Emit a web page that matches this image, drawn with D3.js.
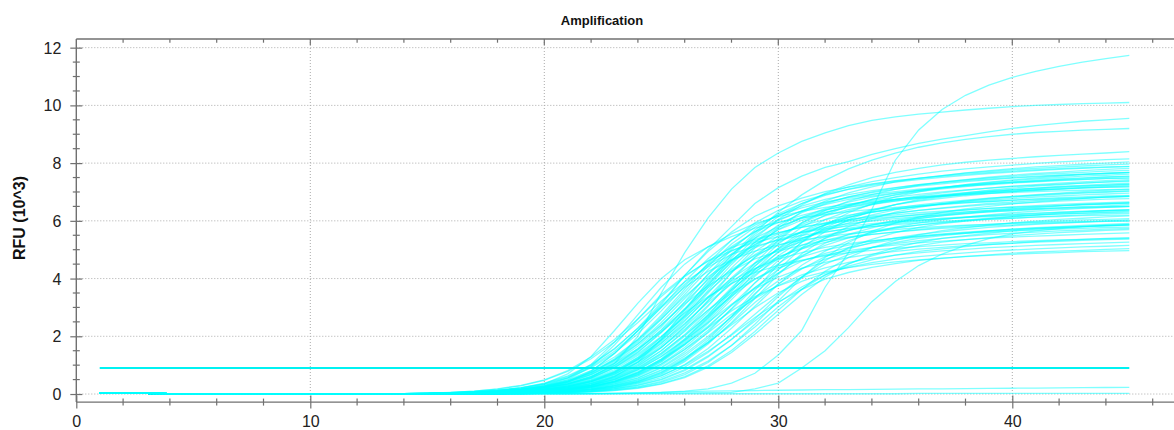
<!DOCTYPE html>
<html><head><meta charset="utf-8">
<script src="https://cdn.jsdelivr.net/npm/d3@7"></script>
<style>html,body{margin:0;padding:0;background:#fff;overflow:hidden}</style>
</head><body><svg id="chart" width="1174" height="430"></svg>
<script>
// ---------- data (RFU in 10^3 units, one value per cycle 1..45) ----------
const cycles = [1,2,3,4,5,6,7,8,9,10,11,12,13,14,15,16,17,18,19,20,21,22,23,24,25,26,27,28,29,30,31,32,33,34,35,36,37,38,39,40,41,42,43,44,45];
const xMajorTicks = [0,10,20,30,40];
const yMajorTicks = [0,2,4,6,8,10,12];
const thresholdRFU = 0.9;
const titleText = "Amplification";
const yLabelText = "RFU (10^3)";

const wE0a = [.05,.03,.02,.01,.01, .01,.01,.01,.01,.01, .01,.01,.01,.01, .03,.05,.08,.13,.21, .35,.7,1.3,2.2,3.15, 4.0,4.65,5.1,5.45,5.75, 5.95,6.1,6.22,6.32,6.4, 6.47,6.53,6.58,6.63,6.67, 6.71,6.74,6.77,6.8,6.82, 6.85];
const wE0b = [.05,.03,.02,.01,.01, .01,.01,.01,.01,.01, .01,.01,.01,.01, .02,.04,.06,.1,.16, .27,.5,.95,1.7,2.6, 3.45,4.1,4.6,4.97,5.25, 5.45,5.6,5.72,5.82,5.9, 5.97,6.02,6.07,6.11,6.15, 6.18,6.21,6.24,6.26,6.28, 6.3];
const wE0c = [.05,.03,.02,.01,.01, .01,.01,.01,.01,.01, .01,.01,.01,.01, .02,.04,.06,.1,.17, .29,.55,1.02,1.8,2.75, 3.7,4.5,5.1,5.55,5.9, 6.15,6.33,6.47,6.58,6.67, 6.75,6.81,6.86,6.91,6.95, 6.98,7.01,7.04,7.06,7.08, 7.1];
const wE0d = [.05,.03,.02,.01,.01, .01,.01,.01,.01,.01, .01,.01,.01,.01, .02,.03,.05,.08,.13, .22,.4,.78,1.4,2.2, 3.0,3.7,4.25,4.65,4.95, 5.17,5.33,5.45,5.55,5.63, 5.7,5.76,5.81,5.85,5.88, 5.91,5.94,5.96,5.98,5.99, 6.0];
const wA2 = [.05,.03,.02,.01,.01, .01,.01,.01,.01,.01, .01,.01,.01,.01, .03,.05,.08,.13,.22, .38,.63,1.02,1.58,2.28, 3.04,3.8,4.46,4.95,5.31, 5.58,5.78,5.93,6.04,6.13, 6.21,6.28,6.34,6.38,6.43, 6.47,6.5,6.53,6.56,6.58, 6.6];
const wB2 = [.05,.03,.02,.01,.01, .01,.01,.01,.01,.01, .01,.01,.01,.01, .03,.06,.1,.17,.28, .47,.78,1.22,1.8,2.48, 3.22,3.88,4.4,4.84,5.12, 5.33,5.5,5.62,5.72,5.8, 5.87,5.93,5.98,6.02,6.06, 6.09,6.13,6.15,6.18,6.19, 6.2];
const wN21 = [.05,.03,.02,.01,.01, .01,.01,.01,.01,.01, .01,.01,.01,.01, .04,.06,.1,.18,.3, .49,.81,1.28,1.89,2.6, 3.38,4.06,4.62,5.07,5.36, 5.59,5.77,5.9,5.99,6.08, 6.15,6.21,6.27,6.31,6.35, 6.39,6.42,6.45,6.47,6.49, 6.5];
const wC1 = [.05,.03,.02,.01,.01, .01,.01,.01,.01,.01, .01,.01,.01,.01,.01, .03,.05,.09,.15,.26, .44,.73,1.19,1.85,2.66, 3.54,4.43,5.2,5.78,6.2, 6.51,6.74,6.91,7.05,7.15, 7.25,7.32,7.39,7.45,7.5, 7.55,7.58,7.62,7.65,7.68];
const wC2 = [.05,.03,.02,.01,.01, .01,.01,.01,.01,.01, .01,.01,.01,.01,.01, .03,.05,.08,.14,.23, .39,.66,1.07,1.66,2.38, 3.17,3.97,4.66,5.18,5.55, 5.83,6.04,6.2,6.31,6.41, 6.49,6.56,6.62,6.67,6.72, 6.76,6.8,6.83,6.86,6.88];
const wC3 = [.05,.03,.02,.01,.01, .01,.01,.01,.01,.01, .01,.01,.01,.01,.01, .02,.04,.07,.12,.2, .33,.55,.9,1.39,2.0, 2.67,3.34,3.92,4.35,4.67, 4.9,5.08,5.21,5.31,5.39, 5.46,5.52,5.57,5.61,5.65, 5.68,5.71,5.74,5.77,5.78];
const wC4 = [.05,.03,.02,.01,.01, .01,.01,.01,.01,.01, .01,.01,.01,.01,.01, .03,.05,.09,.14,.24, .41,.68,1.12,1.73,2.48, 3.31,4.14,4.86,5.4,5.8, 6.08,6.3,6.47,6.59,6.69, 6.78,6.85,6.91,6.96,7.01, 7.06,7.09,7.13,7.16,7.18];
const wN1 = [.05,.03,.02,.01,.01, .01,.01,.01,.01,.01, .01,.01,.01,.01,.01, .03,.06,.09,.16,.27, .45,.75,1.22,1.9,2.73, 3.63,4.54,5.33,5.93,6.36, 6.68,6.91,7.09,7.23,7.34, 7.43,7.51,7.58,7.64,7.69, 7.74,7.78,7.82,7.85,7.88];
const wN2 = [.05,.03,.02,.01,.01, .01,.01,.01,.01,.01, .01,.01,.01,.01,.01, .03,.04,.08,.13,.22, .36,.61,.99,1.54,2.21, 2.94,3.68,4.32,4.8,5.15, 5.41,5.6,5.75,5.86,5.95, 6.02,6.09,6.14,6.19,6.23, 6.27,6.3,6.34,6.36,6.38];
const wN19 = [.05,.03,.02,.01,.01, .01,.01,.01,.01,.01, .01,.01,.01,.01,.01, .03,.05,.09,.15,.26, .43,.71,1.16,1.8,2.59, 3.45,4.31,5.06,5.63,6.04, 6.34,6.56,6.74,6.86,6.97, 7.06,7.13,7.2,7.25,7.31, 7.35,7.39,7.43,7.46,7.48];
const wD1 = [.05,.03,.02,.01,.01, .01,.01,.01,.01,.01, .01,.01,.01,.01,.01, .04,.08,.13,.21,.36, .6,.99,1.56,2.29,3.16, 4.11,4.94,5.61,6.16,6.52, 6.79,7.01,7.17,7.28,7.39, 7.47,7.55,7.62,7.67,7.72, 7.77,7.81,7.84,7.87,7.89];
const wD2 = [.05,.03,.02,.01,.01, .01,.01,.01,.01,.01, .01,.01,.01,.01,.01, .04,.06,.1,.18,.3, .49,.81,1.28,1.89,2.6, 3.38,4.06,4.62,5.07,5.36, 5.59,5.77,5.9,5.99,6.08, 6.15,6.21,6.27,6.31,6.35, 6.39,6.42,6.45,6.47,6.49];
const wD3 = [.05,.03,.02,.01,.01, .01,.01,.01,.01,.01, .01,.01,.01,.01,.01, .04,.07,.12,.2,.34, .57,.94,1.48,2.18,3.0, 3.9,4.69,5.33,5.85,6.19, 6.45,6.65,6.8,6.92,7.01, 7.1,7.17,7.23,7.28,7.33, 7.37,7.41,7.44,7.47,7.49];
const wD4 = [.05,.03,.02,.01,.01, .01,.01,.01,.01,.01, .01,.01,.01,.01,.01, .03,.05,.09,.15,.25, .41,.68,1.06,1.57,2.16, 2.81,3.38,3.83,4.21,4.46, 4.64,4.79,4.9,4.98,5.05, 5.11,5.16,5.21,5.24,5.28, 5.31,5.34,5.36,5.38,5.39];
const wN3 = [.05,.03,.02,.01,.01, .01,.01,.01,.01,.01, .01,.01,.01,.01,.01, .04,.07,.12,.19,.33, .55,.9,1.42,2.09,2.88, 3.74,4.5,5.11,5.62,5.94, 6.19,6.39,6.53,6.64,6.73, 6.81,6.88,6.94,6.99,7.03, 7.08,7.11,7.14,7.17,7.19];
const wN4 = [.05,.03,.02,.01,.01, .01,.01,.01,.01,.01, .01,.01,.01,.01,.01, .03,.06,.1,.16,.27, .46,.75,1.18,1.74,2.4, 3.12,3.75,4.26,4.68,4.95, 5.16,5.32,5.44,5.53,5.61, 5.68,5.74,5.78,5.83,5.86, 5.9,5.93,5.95,5.98,5.99];
const wE1 = [.05,.03,.02,.01,.01, .01,.01,.01,.01,.01, .01,.01,.01,.01,.01, .01, .03,.05,.09,.15,.26, .43,.72,1.18,1.82,2.62, 3.5,4.37,5.13,5.7,6.12, 6.42,6.65,6.82,6.95,7.06, 7.15,7.23,7.3,7.35,7.4, 7.45,7.49,7.52,7.55];
const wE2 = [.05,.03,.02,.01,.01, .01,.01,.01,.01,.01, .01,.01,.01,.01,.01, .01, .03,.04,.08,.13,.21, .36,.6,.98,1.51,2.17, 2.9,3.62,4.25,4.73,5.07, 5.32,5.51,5.66,5.76,5.85, 5.93,5.99,6.05,6.09,6.14, 6.17,6.21,6.24,6.26];
const wE3 = [.05,.03,.02,.01,.01, .01,.01,.01,.01,.01, .01,.01,.01,.01,.01, .01, .03,.05,.08,.14,.24, .4,.67,1.09,1.68,2.42, 3.22,4.03,4.73,5.25,5.64, 5.92,6.13,6.29,6.41,6.5, 6.59,6.66,6.72,6.77,6.82, 6.86,6.9,6.93,6.96];
const wE4 = [.05,.03,.02,.01,.01, .01,.01,.01,.01,.01, .01,.01,.01,.01,.01, .01, .03,.06,.1,.16,.28, .47,.78,1.27,1.97,2.83, 3.77,4.72,5.54,6.15,6.6, 6.93,7.18,7.36,7.5,7.62, 7.72,7.8,7.87,7.93,7.99, 8.04,8.08,8.12,8.15];
const wE5 = [.05,.03,.02,.01,.01, .01,.01,.01,.01,.01, .01,.01,.01,.01,.01, .01, .02,.04,.07,.12,.2, .34,.56,.91,1.42,2.04, 2.71,3.39,3.98,4.43,4.75, 4.99,5.16,5.3,5.4,5.48, 5.55,5.61,5.66,5.71,5.75, 5.78,5.81,5.84,5.86];
const wN5 = [.05,.03,.02,.01,.01, .01,.01,.01,.01,.01, .01,.01,.01,.01,.01, .01, .03,.05,.09,.15,.25, .42,.69,1.13,1.75,2.52, 3.36,4.2,4.93,5.48,5.88, 6.17,6.39,6.56,6.68,6.78, 6.87,6.94,7.01,7.06,7.11, 7.15,7.19,7.23,7.26];
const wN6 = [.05,.03,.02,.01,.01, .01,.01,.01,.01,.01, .01,.01,.01,.01,.01, .01, .03,.05,.08,.13,.23, .38,.64,1.04,1.61,2.31, 3.08,3.85,4.52,5.03,5.39, 5.66,5.86,6.02,6.13,6.22, 6.3,6.37,6.43,6.48,6.53, 6.57,6.6,6.63,6.66];
const wN17 = [.05,.03,.02,.01,.01, .01,.01,.01,.01,.01, .01,.01,.01,.01,.01, .01, .02,.04,.06,.11,.18, .31,.51,.84,1.3,1.86, 2.48,3.11,3.65,4.05,4.35, 4.56,4.73,4.85,4.94,5.02, 5.08,5.14,5.18,5.22,5.26, 5.29,5.32,5.35,5.37];
const wN23 = [.05,.03,.02,.01,.01, .01,.01,.01,.01,.01, .01,.01,.01,.01,.01, .01, .02,.04,.06,.1,.17, .29,.48,.78,1.2,1.73, 2.3,2.88,3.38,3.75,4.03, 4.23,4.38,4.49,4.58,4.65, 4.71,4.76,4.8,4.84,4.87, 4.9,4.93,4.95,4.97];
const wN24 = [.05,.03,.02,.01,.01, .01,.01,.01,.01,.01, .01,.01,.01,.01,.01, .01, .03,.05,.09,.16,.27, .44,.74,1.21,1.87,2.69, 3.59,4.49,5.27,5.85,6.28, 6.59,6.83,7.0,7.14,7.25, 7.34,7.42,7.49,7.54,7.6, 7.64,7.68,7.72,7.75];
const wF1 = [.05,.03,.02,.01,.01, .01,.01,.01,.01,.01, .01,.01,.01,.01,.01, .01, .04,.07,.12,.2,.33, .55,.91,1.44,2.12,2.92, 3.8,4.56,5.18,5.69,6.02, 6.28,6.48,6.62,6.73,6.83, 6.91,6.98,7.04,7.09,7.13, 7.18,7.21,7.24,7.27];
const wF2 = [.05,.03,.02,.01,.01, .01,.01,.01,.01,.01, .01,.01,.01,.01,.01, .01, .04,.06,.11,.18,.31, .52,.85,1.34,1.97,2.72, 3.54,4.25,4.83,5.3,5.61, 5.85,6.03,6.17,6.27,6.36, 6.43,6.5,6.56,6.6,6.64, 6.68,6.72,6.75,6.77];
const wF3 = [.05,.03,.02,.01,.01, .01,.01,.01,.01,.01, .01,.01,.01,.01,.01, .01, .03,.05,.09,.15,.25, .43,.7,1.1,1.62,2.24, 2.91,3.5,3.98,4.37,4.62, 4.82,4.97,5.08,5.16,5.24, 5.3,5.35,5.4,5.44,5.47, 5.5,5.53,5.56,5.58];
const wF4 = [.05,.03,.02,.01,.01, .01,.01,.01,.01,.01, .01,.01,.01,.01,.01, .01, .04,.07,.12,.21,.35, .59,.96,1.52,2.23,3.08, 4.0,4.81,5.47,6.01,6.35, 6.62,6.83,6.98,7.1,7.2, 7.28,7.36,7.42,7.48,7.52, 7.57,7.61,7.64,7.67];
const wF5 = [.05,.03,.02,.01,.01, .01,.01,.01,.01,.01, .01,.01,.01,.01,.01, .01, .03,.06,.1,.16,.28, .46,.76,1.2,1.77,2.44, 3.17,3.81,4.33,4.76,5.03, 5.25,5.41,5.53,5.62,5.7, 5.77,5.83,5.88,5.92,5.96, 6.0,6.03,6.05,6.08];
const wN7 = [.05,.03,.02,.01,.01, .01,.01,.01,.01,.01, .01,.01,.01,.01,.01, .01, .04,.08,.13,.22,.36, .61,1.0,1.58,2.32,3.2, 4.16,5.0,5.68,6.24,6.6, 6.88,7.1,7.26,7.38,7.48, 7.57,7.65,7.71,7.77,7.82, 7.86,7.9,7.94,7.97];
const wN8 = [.05,.03,.02,.01,.01, .01,.01,.01,.01,.01, .01,.01,.01,.01,.01, .01, .04,.06,.1,.17,.29, .49,.8,1.26,1.86,2.56, 3.33,4.0,4.54,4.99,5.28, 5.5,5.68,5.8,5.9,5.98, 6.05,6.12,6.17,6.21,6.25, 6.29,6.32,6.35,6.37];
const wN20 = [.05,.03,.02,.01,.01, .01,.01,.01,.01,.01, .01,.01,.01,.01,.01, .01, .04,.07,.12,.2,.34, .56,.93,1.46,2.15,2.96, 3.85,4.63,5.25,5.77,6.11, 6.36,6.56,6.71,6.82,6.92, 7.0,7.07,7.13,7.19,7.23, 7.27,7.31,7.34,7.37];
const wG1 = [.05,.03,.02,.01,.01, .01,.01,.01,.01,.01, .01,.01,.01,.01,.01, .01,.01, .03,.05,.09,.15,.26, .43,.71,1.16,1.8,2.59, 3.45,4.31,5.06,5.63,6.04, 6.34,6.56,6.74,6.86,6.97, 7.06,7.13,7.2,7.25,7.31, 7.35,7.39,7.43];
const wG2 = [.05,.03,.02,.01,.01, .01,.01,.01,.01,.01, .01,.01,.01,.01,.01, .01,.01, .03,.04,.08,.13,.22, .36,.61,.99,1.54,2.21, 2.94,3.68,4.32,4.8,5.15, 5.41,5.6,5.75,5.86,5.95, 6.02,6.09,6.14,6.19,6.23, 6.27,6.3,6.34];
const wG3 = [.05,.03,.02,.01,.01, .01,.01,.01,.01,.01, .01,.01,.01,.01,.01, .01,.01, .03,.05,.09,.14,.24, .4,.67,1.1,1.7,2.45, 3.27,4.08,4.79,5.33,5.72, 6.0,6.21,6.38,6.5,6.6, 6.68,6.75,6.82,6.87,6.92, 6.96,6.99,7.03];
const wG4 = [.05,.03,.02,.01,.01, .01,.01,.01,.01,.01, .01,.01,.01,.01,.01, .01,.01, .02,.04,.06,.1,.18, .3,.49,.81,1.25,1.79, 2.39,2.99,3.51,3.9,4.19, 4.39,4.55,4.67,4.76,4.83, 4.89,4.95,4.99,5.03,5.06, 5.1,5.12,5.15];
const wG5 = [.05,.03,.02,.01,.01, .01,.01,.01,.01,.01, .01,.01,.01,.01,.01, .01,.01, .03,.06,.09,.16,.27, .45,.75,1.22,1.9,2.73, 3.63,4.54,5.33,5.93,6.36, 6.68,6.91,7.09,7.23,7.34, 7.43,7.51,7.58,7.64,7.69, 7.74,7.78,7.82];
const wN9 = [.05,.03,.02,.01,.01, .01,.01,.01,.01,.01, .01,.01,.01,.01,.01, .01,.01, .03,.05,.09,.15,.26, .44,.73,1.19,1.85,2.66, 3.54,4.43,5.2,5.78,6.2, 6.51,6.74,6.91,7.05,7.15, 7.25,7.32,7.39,7.45,7.5, 7.55,7.58,7.62];
const wN10 = [.05,.03,.02,.01,.01, .01,.01,.01,.01,.01, .01,.01,.01,.01,.01, .01,.01, .03,.05,.08,.13,.23, .38,.64,1.04,1.61,2.31, 3.08,3.85,4.52,5.03,5.39, 5.66,5.86,6.02,6.13,6.22, 6.3,6.37,6.43,6.48,6.53, 6.57,6.6,6.63];
const wN11 = [.05,.03,.02,.01,.01, .01,.01,.01,.01,.01, .01,.01,.01,.01,.01, .01,.01, .02,.04,.07,.12,.2, .33,.55,.9,1.39,2.0, 2.67,3.34,3.92,4.35,4.67, 4.9,5.08,5.21,5.31,5.39, 5.46,5.52,5.57,5.61,5.65, 5.68,5.71,5.74];
const wN22 = [.05,.03,.02,.01,.01, .01,.01,.01,.01,.01, .01,.01,.01,.01,.01, .01,.01, .03,.05,.09,.15,.25, .42,.69,1.13,1.75,2.52, 3.36,4.2,4.93,5.48,5.88, 6.17,6.39,6.56,6.68,6.78, 6.87,6.94,7.01,7.06,7.11, 7.15,7.19,7.23];
const wH1 = [.05,.03,.02,.01,.01, .01,.01,.01,.01,.01, .01,.01,.01,.01,.01, .01,.01, .04,.07,.11,.19,.31, .52,.86,1.36,2.0,2.76, 3.59,4.31,4.9,5.38,5.69, 5.93,6.12,6.26,6.36,6.45, 6.53,6.6,6.65,6.7,6.74, 6.78,6.82,6.84];
const wH2 = [.05,.03,.02,.01,.01, .01,.01,.01,.01,.01, .01,.01,.01,.01,.01, .01,.01, .04,.07,.12,.21,.35, .58,.95,1.5,2.2,3.04, 3.95,4.75,5.4,5.93,6.27, 6.54,6.74,6.89,7.01,7.11, 7.19,7.27,7.33,7.38,7.43, 7.47,7.51,7.54];
const wH3 = [.05,.03,.02,.01,.01, .01,.01,.01,.01,.01, .01,.01,.01,.01,.01, .01,.01, .03,.06,.09,.16,.27, .45,.74,1.16,1.71,2.36, 3.07,3.69,4.19,4.6,4.87, 5.07,5.23,5.35,5.44,5.52, 5.58,5.64,5.69,5.73,5.76, 5.8,5.83,5.85];
const wH4 = [.05,.03,.02,.01,.01, .01,.01,.01,.01,.01, .01,.01,.01,.01,.01, .01,.01, .04,.06,.11,.18,.3, .5,.83,1.3,1.91,2.64, 3.43,4.13,4.69,5.15,5.45, 5.68,5.85,5.99,6.09,6.17, 6.24,6.31,6.36,6.41,6.45, 6.49,6.52,6.55];
const wN12 = [.05,.03,.02,.01,.01, .01,.01,.01,.01,.01, .01,.01,.01,.01,.01, .01,.01, .04,.08,.13,.22,.37, .62,1.01,1.6,2.35,3.24, 4.21,5.06,5.75,6.32,6.68, 6.97,7.18,7.35,7.47,7.57, 7.66,7.74,7.81,7.87,7.91, 7.96,8.0,8.04];
const wN13 = [.05,.03,.02,.01,.01, .01,.01,.01,.01,.01, .01,.01,.01,.01,.01, .01,.01, .04,.07,.11,.19,.32, .54,.89,1.4,2.06,2.84, 3.69,4.44,5.04,5.54,5.86, 6.11,6.3,6.44,6.55,6.64, 6.72,6.79,6.84,6.89,6.94, 6.98,7.01,7.04];
const wN18 = [.05,.03,.02,.01,.01, .01,.01,.01,.01,.01, .01,.01,.01,.01,.01, .01,.01, .03,.05,.08,.14,.24, .4,.66,1.04,1.54,2.12, 2.76,3.31,3.76,4.13,4.37, 4.56,4.7,4.81,4.89,4.96, 5.01,5.07,5.11,5.15,5.18, 5.21,5.24,5.26];
const wI1 = [.05,.03,.02,.01,.01, .01,.01,.01,.01,.01, .01,.01,.01,.01,.01, .01,.01,.01, .03,.05,.09,.14,.24, .41,.68,1.12,1.73,2.48, 3.31,4.14,4.86,5.4,5.8, 6.08,6.3,6.47,6.59,6.69, 6.78,6.85,6.91,6.96,7.01, 7.06,7.09];
const wI2 = [.05,.03,.02,.01,.01, .01,.01,.01,.01,.01, .01,.01,.01,.01,.01, .01,.01,.01, .02,.04,.07,.12,.2, .34,.57,.93,1.44,2.07, 2.76,3.45,4.05,4.5,4.83, 5.07,5.25,5.39,5.49,5.57, 5.65,5.71,5.76,5.8,5.84, 5.88,5.91];
const wI3 = [.05,.03,.02,.01,.01, .01,.01,.01,.01,.01, .01,.01,.01,.01,.01, .01,.01,.01, .03,.05,.09,.16,.27, .44,.74,1.21,1.87,2.69, 3.59,4.49,5.27,5.85,6.28, 6.59,6.83,7.0,7.14,7.25, 7.34,7.42,7.49,7.54,7.6, 7.64,7.68];
const wI4 = [.05,.03,.02,.01,.01, .01,.01,.01,.01,.01, .01,.01,.01,.01,.01, .01,.01,.01, .02,.04,.07,.11,.19, .31,.52,.85,1.32,1.9, 2.53,3.16,3.71,4.13,4.43, 4.65,4.81,4.94,5.03,5.11, 5.18,5.23,5.28,5.32,5.36, 5.39,5.42];
const wN14 = [.05,.03,.02,.01,.01, .01,.01,.01,.01,.01, .01,.01,.01,.01,.01, .01,.01,.01, .03,.05,.08,.13,.22, .38,.63,1.02,1.58,2.28, 3.04,3.8,4.46,4.95,5.31, 5.58,5.78,5.93,6.04,6.13, 6.21,6.28,6.34,6.38,6.43, 6.47,6.5];
const wN15 = [.05,.03,.02,.01,.01, .01,.01,.01,.01,.01, .01,.01,.01,.01,.01, .01,.01,.01, .03,.05,.09,.15,.26, .43,.71,1.16,1.8,2.59, 3.45,4.31,5.06,5.63,6.04, 6.34,6.56,6.74,6.86,6.97, 7.06,7.13,7.2,7.25,7.31, 7.35,7.39];
const wJ1 = [.05,.03,.02,.01,.01, .01,.01,.01,.01,.01, .01,.01,.01,.01,.01, .01,.01,.01, .04,.06,.11,.18,.3, .51,.84,1.32,1.94,2.68, 3.48,4.19,4.76,5.23,5.53, 5.76,5.94,6.08,6.18,6.26, 6.34,6.41,6.46,6.51,6.55, 6.59,6.62];
const wJ2 = [.05,.03,.02,.01,.01, .01,.01,.01,.01,.01, .01,.01,.01,.01,.01, .01,.01,.01, .04,.07,.12,.2,.34, .56,.93,1.46,2.15,2.96, 3.85,4.63,5.25,5.77,6.11, 6.36,6.56,6.71,6.82,6.92, 7.0,7.07,7.13,7.19,7.23, 7.27,7.31];
const wJ3 = [.05,.03,.02,.01,.01, .01,.01,.01,.01,.01, .01,.01,.01,.01,.01, .01,.01,.01, .03,.05,.08,.14,.23, .39,.64,1.0,1.48,2.04, 2.65,3.19,3.62,3.98,4.21, 4.39,4.52,4.63,4.7,4.77, 4.82,4.88,4.92,4.95,4.98, 5.01,5.04];
const wN16 = [.05,.03,.02,.01,.01, .01,.01,.01,.01,.01, .01,.01,.01,.01,.01, .01,.01,.01, .03,.06,.1,.16,.28, .46,.76,1.2,1.77,2.44, 3.17,3.81,4.33,4.76,5.03, 5.25,5.41,5.53,5.62,5.7, 5.77,5.83,5.88,5.92,5.96, 6.0,6.03];
const wK1 = [.05,.03,.02,.01,.01, .01,.01,.01,.01,.01, .01,.01,.01,.01,.01, .01,.01,.01,.01, .03,.04,.08,.13,.21, .36,.6,.98,1.51,2.17, 2.9,3.62,4.25,4.73,5.07, 5.32,5.51,5.66,5.76,5.85, 5.93,5.99,6.05,6.09,6.14, 6.17];
const wK2 = [.05,.03,.02,.01,.01, .01,.01,.01,.01,.01, .01,.01,.01,.01,.01, .01,.01,.01,.01, .03,.05,.08,.14,.24, .4,.67,1.09,1.68,2.42, 3.22,4.03,4.73,5.25,5.64, 5.92,6.13,6.29,6.41,6.5, 6.59,6.66,6.72,6.77,6.82, 6.86];
const wK3 = [.05,.03,.02,.01,.01, .01,.01,.01,.01,.01, .01,.01,.01,.01,.01, .01,.01,.01,.01, .02,.04,.07,.12,.2, .34,.57,.93,1.44,2.07, 2.76,3.45,4.05,4.5,4.83, 5.07,5.25,5.39,5.49,5.57, 5.65,5.71,5.76,5.8,5.84, 5.88];
const wL1 = [.05,.03,.02,.01,.01, .01,.01,.01,.01,.01, .01,.01,.01,.01,.01, .01,.01,.01,.01, .04,.06,.1,.18,.3, .49,.81,1.28,1.89,2.6, 3.38,4.06,4.62,5.07,5.36, 5.59,5.77,5.9,5.99,6.08, 6.15,6.21,6.27,6.31,6.35, 6.39];
const wL2 = [.05,.03,.02,.01,.01, .01,.01,.01,.01,.01, .01,.01,.01,.01,.01, .01,.01,.01,.01, .03,.06,.09,.16,.26, .44,.73,1.14,1.68,2.32, 3.02,3.63,4.12,4.52,4.79, 4.99,5.14,5.26,5.35,5.42, 5.49,5.54,5.59,5.63,5.67, 5.7];
const wS1 = [.05,.03,.02,.01,.01, .01,.01,.01,.01,.01, .01,.01,.01,.01, .03,.04,.06,.09,.14, .22,.35,.58,1.05,2.0, 3.5,4.9,6.1,7.1,7.85, 8.35,8.75,9.05,9.3,9.48, 9.6,9.7,9.77,9.84,9.9, 9.96,10.0,10.03,10.06,10.08, 10.1];
const wS2 = [.05,.03,.02,.01,.01, .01,.01,.01,.01,.01, .01,.01,.01,.01,.01, .01, .05,.08,.14,.25,.45, .8,1.4,2.2,3.1,4.1, 5.0,5.8,6.6,7.15,7.55, 7.85,8.05,8.3,8.5,8.68, 8.83,8.95,9.08,9.2,9.3, 9.38,9.45,9.5,9.55];
const wS3 = [.05,.03,.02,.01,.01, .01,.01,.01,.01,.01, .01,.01,.01,.01,.01, .01, .03,.05,.08,.13,.2, .3,.6,1.1,1.9,2.9, 3.9,4.8,5.6,6.3,6.9, 7.4,7.8,8.1,8.35,8.55, 8.7,8.82,8.92,9.0,9.06, 9.1,9.14,9.17,9.2];
const wS4 = [.05,.03,.02,.01,.01, .01,.01,.01,.01,.01, .01,.01,.01,.01,.01, .01, .03,.05,.09,.15,.26, .45,.75,1.22,1.9,2.75, 3.7,4.6,5.4,6.05,6.55, 6.95,7.25,7.5,7.68,7.82, 7.94,8.03,8.1,8.16,8.22, 8.27,8.31,8.35,8.4];
const wLate1 = [.05,.03,.02,.01,.01, .01,.01,.01,.01,.01, .01,.01,.01,.01,.01, .01,.01,.01,.01, .01,.01,.02,.03,.04, .06,.1,.18,.38,.72, 1.35,2.2,3.7,4.9,6.4, 8.1,9.15,9.86,10.35,10.7, 10.97,11.18,11.35,11.5,11.62, 11.73];
const wLate2 = [.05,.03,.02,.01,.01, .01,.01,.01,.01,.01, .01,.01,.01,.01,.01, .01,.01,.01,.01,.01, .01,.01,.01,.02,.03, .04,.05,.06,.18,.38, .9,1.5,2.3,3.2,3.9, 4.45,4.85,5.15,5.38,5.55, 5.65,5.73,5.79,5.83,5.86];
const wFlat1 = [.05,.03,.02,.01,.01, .01,.01,.01,.01,.01, .01,.01,.01,.01,.01, .01,.01,.01,.01,.01, .01,.01,.02,.04,.06, .08,.1,.11,.12,.13, .14,.15,.155,.16,.17, .175,.18,.19,.195,.2, .205,.21,.22,.225,.23];
const wFlat2 = [.05,.03,.02,.01,.01, .01,.01,.01,.01,.01, .01,.01,.01,.01,.01, .01,.01,.01,.01,.01, .01,.01,.01,.01,.01, .01,.01,.01,.01,.01, .01,.01,.01,.01,.01, .02,.02,.02,.02,.02, .02,.02,.02,.02,.02];

const wells = [wE0a,wE0b,wE0c,wE0d,wA2,wB2,wN21,wC1,wC2,wC3,wC4,wN1,wN2,wN19,wD1,wD2,wD3,wD4,wN3,wN4,
  wE1,wE2,wE3,wE4,wE5,wN5,wN6,wN17,wN23,wN24,wF1,wF2,wF3,wF4,wF5,wN7,wN8,wN20,
  wG1,wG2,wG3,wG4,wG5,wN9,wN10,wN11,wN22,wH1,wH2,wH3,wH4,wN12,wN13,wN18,
  wI1,wI2,wI3,wI4,wN14,wN15,wJ1,wJ2,wJ3,wN16,wK1,wK2,wK3,wL1,wL2,
  wS1,wS2,wS3,wS4,wLate1,wLate2,wFlat1,wFlat2];

// ---------- layout ----------
const svg = d3.select("#chart");
const pL = 76.3, pT = 39, pB = 402.1, pR = 1174;
const x = d3.scaleLinear().domain([0, 47]).range([pL, pL + 23.4 * 47]);
const y = d3.scaleLinear().domain([-0.28, 12.3]).range([pB, pT]);
const font = "'Liberation Sans', Arial, sans-serif";
const axisColor = "#707070";

// grid
const grid = svg.append("g");
grid.selectAll("line.h").data(yMajorTicks).join("line")
  .attr("x1", pL).attr("x2", pR)
  .attr("y1", d => y(d)).attr("y2", d => y(d))
  .attr("stroke", "#ababab").attr("stroke-width", 1).attr("stroke-dasharray", "1,2");
grid.selectAll("line.v").data(xMajorTicks.filter(d => d > 0)).join("line")
  .attr("x1", d => x(d)).attr("x2", d => x(d))
  .attr("y1", pT).attr("y2", pB)
  .attr("stroke", "#ababab").attr("stroke-width", 1).attr("stroke-dasharray", "1,2");

// curves
const line = d3.line().x((d, i) => x(cycles[i])).y(d => y(d));
svg.append("g").selectAll("path").data(wells).join("path")
  .attr("d", line)
  .attr("fill", "none")
  .attr("stroke", "#00ffff")
  .attr("stroke-opacity", 0.5)
  .attr("stroke-width", 1.3);

// threshold
svg.append("path")
  .attr("d", d3.line().x(d => x(d)).y(() => y(thresholdRFU))([cycles[0], cycles[cycles.length - 1]]))
  .attr("stroke", "#00f2f2").attr("stroke-width", 2).attr("fill", "none");

// axes
const yMinor = d3.range(0, 12.01, 0.5).filter(v => v % 2 !== 0);
const xMinor = d3.range(2, 47, 2).filter(v => v % 10 !== 0);

const yAxis = svg.append("g").attr("transform", `translate(${pL},0)`)
  .call(d3.axisLeft(y).tickValues(yMajorTicks).tickSize(6).tickFormat(d3.format("d")));
yAxis.select(".domain").remove();
yAxis.selectAll(".tick line").attr("x1", -6).attr("x2", 6).attr("stroke", axisColor).attr("stroke-width", 1.2);
yAxis.selectAll(".tick text").attr("x", -15).attr("dy", "0.34em")
  .attr("font-family", font).attr("font-size", 16).attr("fill", "#222");
svg.append("g").selectAll("line").data(yMinor).join("line")
  .attr("x1", pL - 3.5).attr("x2", pL + 3.5).attr("y1", d => y(d)).attr("y2", d => y(d))
  .attr("stroke", axisColor).attr("stroke-width", 1.2);

const xAxis = svg.append("g").attr("transform", `translate(0,${pB})`)
  .call(d3.axisBottom(x).tickValues(xMajorTicks).tickSize(6).tickFormat(d3.format("d")));
xAxis.select(".domain").remove();
xAxis.selectAll(".tick line").attr("y1", -6.5).attr("y2", 6.5).attr("stroke", axisColor).attr("stroke-width", 1.2);
xAxis.selectAll(".tick text").attr("y", 25).attr("dy", 0)
  .attr("font-family", font).attr("font-size", 16).attr("fill", "#222");
svg.append("g").selectAll("line").data(xMinor).join("line")
  .attr("x1", d => x(d)).attr("x2", d => x(d)).attr("y1", pB - 3.5).attr("y2", pB + 3.5)
  .attr("stroke", axisColor).attr("stroke-width", 1.2);

// top axis ticks (inward)
svg.append("g").selectAll("line").data(xMajorTicks.filter(d => d > 0)).join("line")
  .attr("x1", d => x(d)).attr("x2", d => x(d)).attr("y1", pT).attr("y2", pT + 6)
  .attr("stroke", axisColor).attr("stroke-width", 1.2);
svg.append("g").selectAll("line").data(xMinor).join("line")
  .attr("x1", d => x(d)).attr("x2", d => x(d)).attr("y1", pT).attr("y2", pT + 3.7)
  .attr("stroke", axisColor).attr("stroke-width", 1.2);

// frame lines
svg.append("line").attr("x1", pL).attr("x2", pL).attr("y1", pT).attr("y2", pB)
  .attr("stroke", axisColor).attr("stroke-width", 1.4);
svg.append("line").attr("x1", pL).attr("x2", pR).attr("y1", pB).attr("y2", pB)
  .attr("stroke", axisColor).attr("stroke-width", 1.4);
svg.append("line").attr("x1", pL).attr("x2", pR).attr("y1", pT).attr("y2", pT)
  .attr("stroke", axisColor).attr("stroke-width", 1.4);

// title & axis label
svg.append("text").attr("x", 602).attr("y", 25).attr("text-anchor", "middle")
  .attr("font-family", font).attr("font-weight", "bold").attr("font-size", 13).attr("fill", "#111")
  .text(titleText);
svg.append("text").attr("transform", "translate(25,218) rotate(-90)").attr("text-anchor", "middle")
  .attr("font-family", font).attr("font-weight", "bold").attr("font-size", 16).attr("fill", "#111")
  .text(yLabelText);
</script>
</body></html>
